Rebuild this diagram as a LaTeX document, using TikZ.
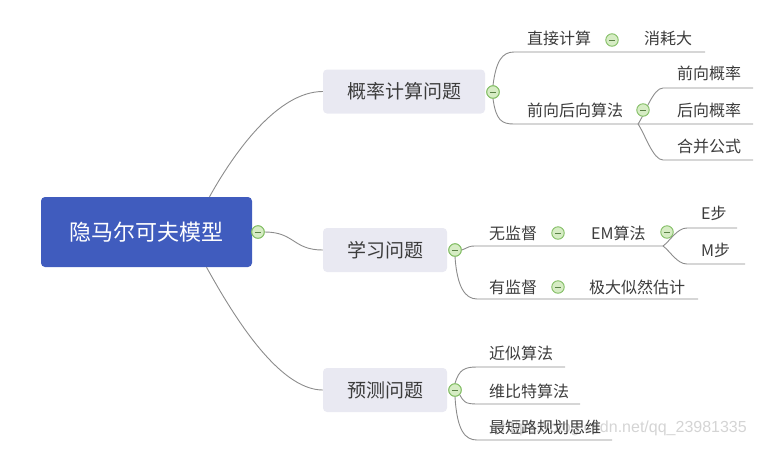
\documentclass[tikz,border=0pt]{standalone}
\usepackage{fontspec}
\newfontfamily\cjk{Noto Sans CJK SC}
\newfontfamily\wmfont{Liberation Sans}
\usetikzlibrary{calc}
\definecolor{rootblue}{RGB}{64,92,190}
\definecolor{lav}{RGB}{233,233,242}
\definecolor{linegray}{RGB}{140,140,140}
\definecolor{txt}{RGB}{60,60,60}
\definecolor{tgreen}{RGB}{130,190,100}
\definecolor{tfill}{RGB}{214,236,196}
\definecolor{tminus}{RGB}{90,130,70}
\definecolor{wmgray}{RGB}{212,212,212}
\begin{document}
\begin{tikzpicture}[x=1pt,y=-1pt,
  rootbox/.style={rectangle,rounded corners=4pt,fill=rootblue,text=white,
    minimum width=211pt,minimum height=70pt,inner sep=0pt,font=\cjk\fontsize{22}{26}\selectfont},
  topicbox/.style={rectangle,rounded corners=4pt,fill=lav,text=txt,
    minimum height=44pt,inner sep=0pt,font=\cjk\fontsize{19}{23}\selectfont},
  leaf/.style={anchor=west,inner sep=0pt,text=txt,font=\cjk\fontsize{16}{19}\selectfont},
  toggle/.style={circle,minimum size=12.5pt,inner sep=0pt,draw=tgreen,fill=tfill,line width=0.9pt,
    path picture={\draw[tminus,line width=1pt]
      ([xshift=3pt]path picture bounding box.west) -- ([xshift=-3pt]path picture bounding box.east);}},
  conn/.style={draw=linegray,line width=0.9pt}
]
\useasboundingbox (0,0) rectangle (758,451);

% watermark
\node[anchor=east,inner sep=0pt,text=wmgray,font=\wmfont\fontsize{16}{19}\selectfont] (wm) at (747,428) {https://blog.csdn.net/qq\_23981335};

% main nodes
\node[rootbox] (root) at (146.5,232) {隐马尔可夫模型};
\node[topicbox,minimum width=162pt] (p1) at (404,91.5) {概率计算问题};
\node[topicbox,minimum width=124pt] (p2) at (385,250) {学习问题};
\node[topicbox,minimum width=124pt] (p3) at (385,390) {预测问题};

% toggles
\node[toggle] (rc) at (258,232) {};
\node[toggle] (c1) at (493,92) {};
\node[toggle] (c2) at (455,250) {};
\node[toggle] (c3) at (455,390) {};

% leaves
\node[leaf] (a1) at (527,38) {直接计算};
\node[leaf] (a1b) at (644,38) {消耗大};
\node[leaf] (a2) at (527,110) {前向后向算法};
\node[leaf] (a21) at (677,73) {前向概率};
\node[leaf] (a22) at (677,110) {后向概率};
\node[leaf] (a23) at (677,146) {合并公式};
\node[leaf] (b1) at (489,233) {无监督};
\node[leaf] (b1b) at (591,233) {EM算法};
\node[leaf] (b11) at (701,213) {E步};
\node[leaf] (b12) at (701,250) {M步};
\node[leaf] (b2) at (489,287) {有监督};
\node[leaf] (b2b) at (589,287) {极大似然估计};
\node[leaf] (d1) at (489,353) {近似算法};
\node[leaf] (d2) at (489,391) {维比特算法};
\node[leaf] (d3) at (489,427) {最短路规划思维};

% coordinates for underline ends
\coordinate (ua1s) at (514,52);  \coordinate (ua1e) at (705,52);
\coordinate (ua2s) at (514,124); \coordinate (ua2e) at (638,124);
\coordinate (u21s) at (663,88);  \coordinate (u21e) at (753,88);
\coordinate (u22e) at (753,124);
\coordinate (u23s) at (663,160); \coordinate (u23e) at (753,160);
\coordinate (ub1s) at (476,246); \coordinate (ub1e) at (663,246);
\coordinate (u11s) at (687,228); \coordinate (u11e) at (737,228);
\coordinate (u12s) at (687,264); \coordinate (u12e) at (745,264);
\coordinate (ub2s) at (477,299); \coordinate (ub2e) at (698,299);
\coordinate (ud1s) at (477,367); \coordinate (ud1e) at (565,367);
\coordinate (ud2s) at (477,404); \coordinate (ud2e) at (580,404);
\coordinate (ud3s) at (477,440); \coordinate (ud3e) at (612,440);

% root connectors
\draw[conn] ($(root.north)+(63,0)$) .. controls +(25,-45) and +(-45,0) .. (p1.west);
\draw[conn] ($(root.south)+(60,0)$) .. controls +(25,45) and +(-45,0) .. (p3.west);
\draw[conn] (rc.east) .. controls +(30,0) and +(-30,0) .. (p2.west);

% level 2 connectors
\draw[conn] (c1.north) .. controls +(3,-24) and +(-12,0) .. (ua1s) -- (ua1e);
\draw[conn] (c1.south) .. controls +(3,22) and +(-12,0) .. (ua2s) -- (ua2e) -- (u22e);
\draw[conn] (ua2e) .. controls +(7,-10) and +(-10,0) .. (u21s) -- (u21e);
\draw[conn] (ua2e) .. controls +(7,10) and +(-10,0) .. (u23s) -- (u23e);

\draw[conn] (c2.east) .. controls +(8,-3) and +(-8,0) .. (ub1s) -- (ub1e);
\draw[conn] (ub1e) .. controls +(7,-5) and +(-10,0) .. (u11s) -- (u11e);
\draw[conn] (ub1e) .. controls +(7,5) and +(-10,0) .. (u12s) -- (u12e);
\draw[conn] (c2.south) .. controls +(2,30) and +(-12,0) .. (ub2s) -- (ub2e);

\draw[conn] (c3.north) .. controls +(4,-14) and +(-12,0) .. (ud1s) -- (ud1e);
\draw[conn] (c3.south east) .. controls +(4,7) and +(-12,0) .. (ud2s) -- (ud2e);
\draw[conn] (c3.south) .. controls +(2,34) and +(-12,0) .. (ud3s) -- (ud3e);

% redraw toggles on top
\node[toggle] at (rc) {};
\node[toggle] at (c1) {};
\node[toggle] at (c2) {};
\node[toggle] at (c3) {};
\node[toggle] (t1) at (612,40) {};
\node[toggle] (t2) at (643,110) {};
\node[toggle] (t3) at (558,233) {};
\node[toggle] (t4) at (667,232) {};
\node[toggle] (t5) at (558,287) {};
\end{tikzpicture}
\end{document}
